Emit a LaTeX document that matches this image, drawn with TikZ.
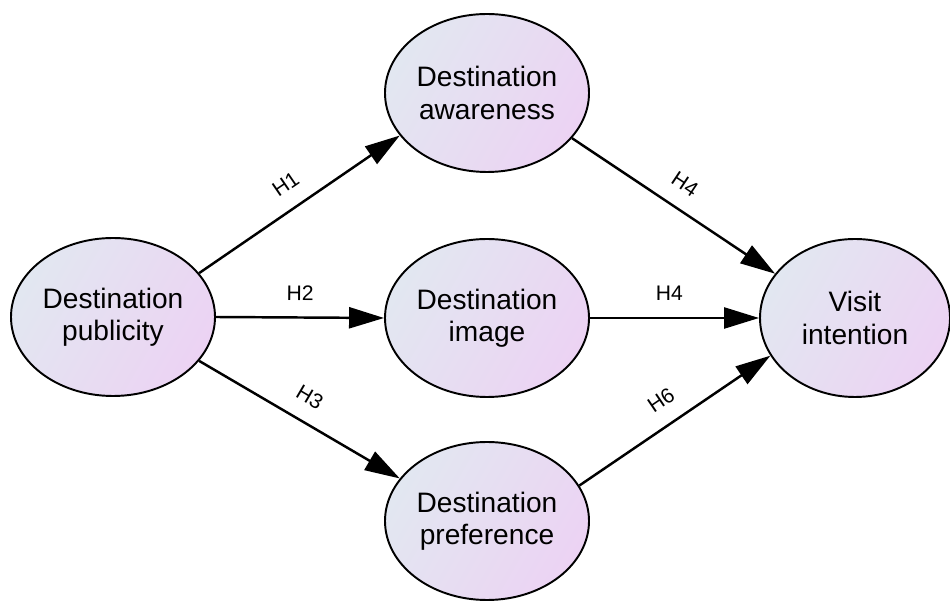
\documentclass[tikz,border=0pt]{standalone}
\usepackage{fontspec}
\setmainfont{Liberation Sans}
\usepackage{tikz}
\usetikzlibrary{arrows.meta, shapes.geometric}

\definecolor{nodeblue}{RGB}{226,231,241}
\definecolor{nodepink}{RGB}{236,211,243}

\begin{document}
\begin{tikzpicture}[
  construct/.style={ellipse, draw, line width=1.1pt, minimum width=4.08cm, minimum height=3.16cm,
    inner sep=0pt, align=center, left color=nodeblue, right color=nodepink, shading angle=60,
    font=\fontsize{16}{18.5}\selectfont},
  path/.style={-{Triangle[length=7mm, width=4.2mm]}, line width=1.4pt},
  hyp/.style={font=\fontsize{12}{14}\selectfont, sloped, above=2mm}
]
\useasboundingbox (0, 0) rectangle (19, 12.04);

% nodes
\node[construct] (P) at (2.26, 5.70) {Destination\\publicity};
\node[construct] (A) at (9.74, 10.18) {Destination\\awareness};
\node[construct] (I) at (9.74, 5.68) {Destination\\image};
\node[construct] (R) at (9.74, 1.62) {Destination\\preference};
\node[construct, minimum width=3.8cm] (V) at (17.1, 5.68) {Visit\\intention};

% arrows
\draw [path] (P.27) -- node[hyp, pos=0.5] {H1} (A.206.8);
\draw [path] (P.0) -- node[hyp, pos=0.5] {H2} (I.180);
\draw [path] (P.-27.5) -- node[hyp, pos=0.49] {H3} (R.154.5);

\draw [path] (A.-28.7) -- node[hyp, pos=0.49] {H4} (V.151.5);
\draw [path] (I.0) -- node[hyp, pos=0.47] {H4} (V.180);
\draw [path] (R.21.6) -- node[hyp, pos=0.5] {H6} (V.-156.5);

\end{tikzpicture}
\end{document}
